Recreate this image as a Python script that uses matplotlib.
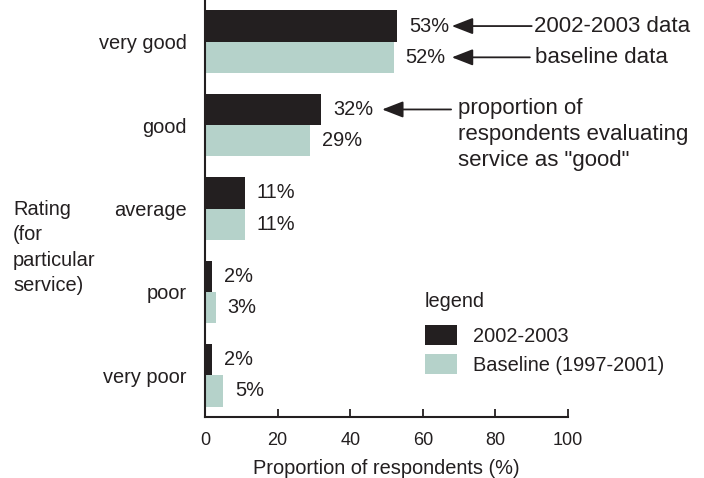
import numpy as np
import matplotlib.pyplot as plt

# data
ratings = ['very good', 'good', 'average', 'poor', 'very poor']
recent = [53, 32, 11, 2, 2]        # 2002-2003
baseline = [52, 29, 11, 3, 5]      # Baseline (1997-2001)
xticks = [0, 20, 40, 60, 80, 100]

dark = '#231f20'
teal = '#b5d2ca'

plt.rcParams['font.family'] = ['Liberation Sans', 'DejaVu Sans']
plt.rcParams['font.size'] = 14.4
plt.rcParams['text.color'] = dark
plt.rcParams['axes.labelcolor'] = dark
plt.rcParams['xtick.color'] = dark
plt.rcParams['ytick.color'] = dark

fig = plt.figure(figsize=(7.04, 4.78), dpi=100)
ax = fig.add_axes([205 / 704, 61 / 478, 363 / 704, 417 / 478])

y = np.arange(len(ratings))
h = 0.375
ax.barh(y - h / 2, recent, height=h, color=dark, label='2002-2003')
ax.barh(y + h / 2, baseline, height=h, color=teal, label='Baseline (1997-2001)')

# value labels
for yi, v in zip(y, recent):
    ax.annotate(f'{v}%', (v, yi - h / 2), xytext=(8.5, 0), textcoords='offset points',
                va='center', ha='left')
for yi, v in zip(y, baseline):
    ax.annotate(f'{v}%', (v, yi + h / 2), xytext=(8.5, 0), textcoords='offset points',
                va='center', ha='left')

ax.set_xlim(0, 100)
ax.set_ylim(len(ratings) - 0.5, -0.5)
ax.set_yticks(y)
ax.set_yticklabels(ratings)
ax.set_xticks(xticks)
ax.tick_params(axis='y', length=0, pad=13)
ax.tick_params(axis='x', direction='in', length=6, width=1.3, pad=11, labelsize=13)
for s in ['top', 'right']:
    ax.spines[s].set_visible(False)
for s in ['left', 'bottom']:
    ax.spines[s].set_linewidth(1.5)
    ax.spines[s].set_color(dark)
ax.set_xlabel('Proportion of respondents (%)', labelpad=7)

# callouts
arrow = dict(arrowstyle='-|>,head_length=0.9,head_width=0.35', lw=1.3, color=dark,
             shrinkA=0, shrinkB=0)
ax.annotate('', xy=(68, -h / 2), xytext=(90, -h / 2), arrowprops=arrow, annotation_clip=False)
ax.text(90.6, -h / 2, '2002-2003 data', va='center', ha='left', fontsize=16, clip_on=False)
ax.annotate('', xy=(68, h / 2), xytext=(89.5, h / 2), arrowprops=arrow, annotation_clip=False)
ax.text(90.8, h / 2, 'baseline data', va='center', ha='left', fontsize=16, clip_on=False)
ax.annotate('', xy=(48.8, 1 - h / 2), xytext=(67.8, 1 - h / 2), arrowprops=arrow,
            annotation_clip=False)
ax.text(69.7, 1 - h / 2 + 0.3, 'proportion of\nrespondents evaluating\nservice as "good"',
        va='center', ha='left', fontsize=16, linespacing=1.3, clip_on=False)

fig.text(13 / 704, 1 - 200 / 478, 'Rating\n(for\nparticular\nservice)', va='top', ha='left',
         linespacing=1.43)

leg = ax.legend(title='legend', loc='upper left', bbox_to_anchor=(0.606, 0.30),
                frameon=False, borderpad=0, borderaxespad=0, handlelength=1.6,
                handleheight=1.2, labelspacing=0.4, handletextpad=0.8,
                alignment='left', title_fontsize=14.4)
leg._legend_box.sep = 10

fig.savefig('out.png', dpi=100)
